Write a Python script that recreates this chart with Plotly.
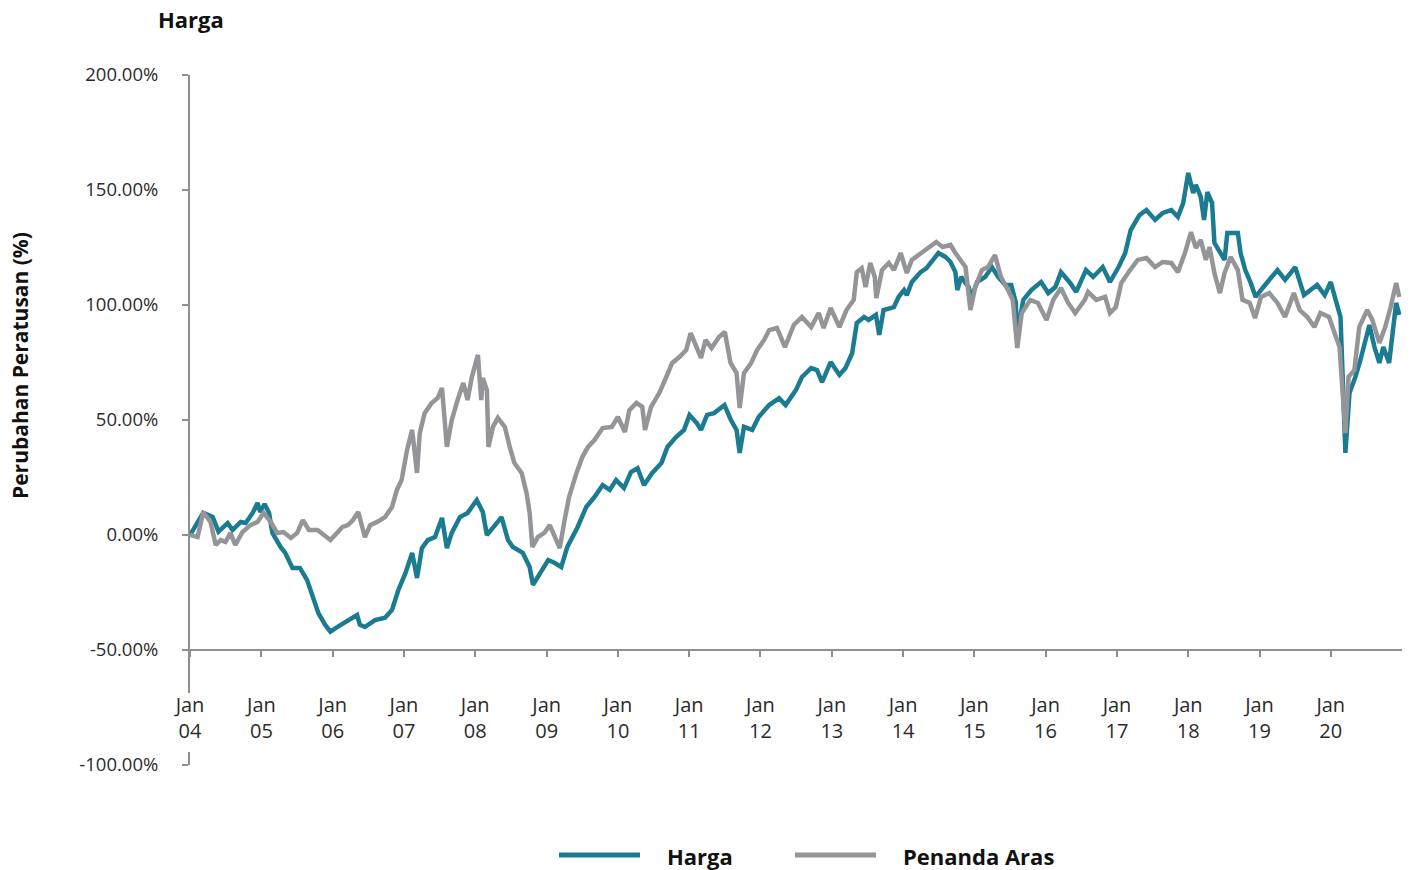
import plotly.graph_objects as go

# ---------------- data ----------------
harga_dates = [
    "2004-01-01", "2004-03-09", "2004-04-26", "2004-05-26", "2004-07-12", "2004-08-06", "2004-09-17",
    "2004-10-12", "2004-11-17", "2004-12-12", "2004-12-26", "2005-01-17", "2005-02-09", "2005-02-26",
    "2005-04-09", "2005-05-03", "2005-06-09", "2005-07-17", "2005-08-23", "2005-09-23", "2005-10-20",
    "2005-11-23", "2005-12-20", "2006-02-01", "2006-03-20", "2006-05-06", "2006-05-20", "2006-06-15",
    "2006-08-06", "2006-09-26", "2006-11-01", "2006-12-03", "2007-01-09", "2007-02-12", "2007-03-09",
    "2007-04-03", "2007-05-03", "2007-06-09", "2007-07-15", "2007-08-09", "2007-09-03", "2007-10-15",
    "2007-11-23", "2008-01-09", "2008-02-09", "2008-03-01", "2008-04-12", "2008-05-15", "2008-06-17",
    "2008-07-12", "2008-09-01", "2008-10-06", "2008-10-23", "2008-12-01", "2009-01-09", "2009-02-12",
    "2009-03-17", "2009-04-17", "2009-06-09", "2009-07-23", "2009-09-03", "2009-10-15", "2009-11-20",
    "2009-12-23", "2010-02-01", "2010-03-09", "2010-04-12", "2010-05-15", "2010-06-26", "2010-08-12",
    "2010-09-12", "2010-10-26", "2010-12-06", "2011-01-03", "2011-02-09", "2011-03-03", "2011-04-03",
    "2011-05-09", "2011-07-01", "2011-08-03", "2011-09-01", "2011-09-17", "2011-10-09", "2011-11-20",
    "2011-12-23", "2012-02-15", "2012-04-06", "2012-05-09", "2012-07-01", "2012-08-01", "2012-09-17",
    "2012-10-17", "2012-11-12", "2012-12-26", "2013-02-09", "2013-03-12", "2013-04-15", "2013-05-09",
    "2013-06-15", "2013-07-09", "2013-08-15", "2013-09-01", "2013-09-23", "2013-11-15", "2013-12-09",
    "2014-01-06", "2014-01-20", "2014-02-15", "2014-04-01", "2014-05-01", "2014-05-26", "2014-07-01",
    "2014-08-06", "2014-09-01", "2014-09-26", "2014-10-06", "2014-10-26", "2014-12-03", "2014-12-17",
    "2015-01-15", "2015-02-26", "2015-04-01", "2015-05-03", "2015-06-09", "2015-07-09", "2015-08-01",
    "2015-08-09", "2015-09-09", "2015-10-20", "2015-12-09", "2016-01-15", "2016-02-20", "2016-03-20",
    "2016-05-06", "2016-06-06", "2016-07-26", "2016-09-01", "2016-10-20", "2016-11-26", "2017-01-09",
    "2017-02-12", "2017-03-12", "2017-04-26", "2017-06-01", "2017-07-15", "2017-08-23", "2017-10-06",
    "2017-11-09", "2017-12-06", "2018-01-01", "2018-01-26", "2018-02-09", "2018-03-06", "2018-03-23",
    "2018-04-09", "2018-05-03", "2018-05-15", "2018-06-12", "2018-07-06", "2018-07-20", "2018-09-12",
    "2018-09-26", "2018-10-20", "2018-11-17", "2018-12-12", "2019-01-17", "2019-02-20", "2019-04-03",
    "2019-05-12", "2019-07-03", "2019-08-17", "2019-09-20", "2019-10-23", "2019-12-01", "2020-01-01",
    "2020-01-26", "2020-02-20", "2020-03-16", "2020-04-06", "2020-05-06", "2020-06-01", "2020-07-17",
    "2020-08-12", "2020-09-06", "2020-09-26", "2020-10-26", "2020-11-12", "2020-12-01", "2020-12-17",
]
harga_values = [
    0, 9.6, 7.8, 1.5, 5.2, 2.2, 5.7,
    5.2, 9.6, 13.9, 10, 13.5, 9.6, 0.9,
    -5.2, -7.8, -14.3, -14.3, -19.6, -27, -34,
    -39, -42, -39.6, -37, -34.8, -39, -40,
    -37, -36, -32.6, -24, -16.5, -7.8, -18.7,
    -5.7, -2.2, -0.9, 7.4, -5.7, 0.9, 7.8,
    9.6, 15.2, 10, 0, 4.3, 7.8, -2.2,
    -5.2, -7.8, -13.9, -21.7, -16.5, -10.9, -12.2,
    -13.9, -5.2, 3.5, 12.2, 16.5, 21.7, 19.6,
    23.9, 20.4, 27.4, 29, 21.7, 27, 31.3,
    38.3, 42.6, 45.7, 52.2, 48.7, 45.7, 52.2,
    53, 56.5, 50, 45.7, 35.7, 47, 45.7,
    51.3, 56.5, 59.5, 56.5, 63, 68.7, 72.6,
    71.7, 66.5, 75.2, 69.6, 72.6, 79, 92.2,
    94.8, 93.5, 95.7, 87, 97.8, 99.1, 103.5,
    106.5, 104.3, 110, 114.3, 116, 118.7, 122.6,
    120.9, 118.7, 114.3, 106.5, 112.2, 107.8, 103,
    110, 112.2, 116.5, 112.2, 108.7, 108.7, 101.3,
    87.8, 102.2, 106.5, 110, 105.2, 107.8, 114.3,
    109.6, 105.7, 115.2, 112.2, 116.5, 110, 116.5,
    122.6, 132.6, 139.1, 141.3, 137, 140, 141.3,
    138.3, 144.3, 157.4, 148.7, 152.2, 147, 137,
    149.1, 144.3, 127, 122.6, 119.6, 131.3, 131.3,
    122.6, 115.2, 109.6, 103.5, 107.4, 110.9, 115.2,
    110.9, 116.5, 104.3, 106.5, 108.7, 104.3, 110,
    102.2, 94.8, 35.7, 61.7, 68.7, 76.1, 91.3,
    81.7, 74.8, 81.7, 74.8, 87.8, 100.9, 95.7,
]

penanda_dates = [
    "2004-01-01", "2004-02-09", "2004-03-09", "2004-04-15", "2004-05-12", "2004-06-06", "2004-07-01",
    "2004-07-26", "2004-08-20", "2004-09-26", "2004-11-06", "2004-12-12", "2005-01-12", "2005-02-17",
    "2005-03-23", "2005-04-23", "2005-06-01", "2005-07-03", "2005-08-01", "2005-09-01", "2005-10-15",
    "2005-11-15", "2005-12-20", "2006-01-23", "2006-02-20", "2006-03-20", "2006-04-15", "2006-05-12",
    "2006-06-01", "2006-06-15", "2006-07-12", "2006-08-17", "2006-09-26", "2006-11-01", "2006-11-26",
    "2006-12-20", "2007-01-17", "2007-02-12", "2007-03-09", "2007-03-23", "2007-04-17", "2007-05-23",
    "2007-06-23", "2007-07-15", "2007-08-09", "2007-09-03", "2007-10-03", "2007-11-01", "2007-11-23",
    "2007-12-15", "2008-01-15", "2008-02-01", "2008-02-09", "2008-03-01", "2008-03-09", "2008-04-01",
    "2008-04-26", "2008-06-01", "2008-06-26", "2008-07-20", "2008-08-26", "2008-09-20", "2008-10-06",
    "2008-10-20", "2008-11-17", "2008-12-20", "2009-01-17", "2009-02-12", "2009-03-09", "2009-04-03",
    "2009-04-26", "2009-06-03", "2009-07-03", "2009-08-01", "2009-09-03", "2009-10-15", "2009-12-01",
    "2010-01-01", "2010-02-06", "2010-03-01", "2010-04-06", "2010-05-06", "2010-05-20", "2010-06-20",
    "2010-08-01", "2010-09-06", "2010-10-06", "2010-11-12", "2010-12-17", "2011-01-09", "2011-02-09",
    "2011-03-03", "2011-03-26", "2011-04-26", "2011-06-03", "2011-07-03", "2011-08-01", "2011-09-01",
    "2011-09-17", "2011-10-09", "2011-11-15", "2011-12-15", "2012-01-20", "2012-02-15", "2012-03-26",
    "2012-05-06", "2012-06-20", "2012-08-01", "2012-09-17", "2012-10-26", "2012-11-20", "2012-12-26",
    "2013-02-09", "2013-03-17", "2013-04-23", "2013-05-09", "2013-06-03", "2013-06-23", "2013-07-17",
    "2013-08-09", "2013-08-17", "2013-09-15", "2013-10-20", "2013-11-15", "2013-12-20", "2014-01-20",
    "2014-02-15", "2014-04-01", "2014-05-12", "2014-06-20", "2014-07-23", "2014-09-01", "2014-09-26",
    "2014-10-20", "2014-11-17", "2014-12-12", "2015-01-06", "2015-02-09", "2015-03-12", "2015-04-17",
    "2015-05-17", "2015-06-23", "2015-07-17", "2015-08-09", "2015-09-01", "2015-10-15", "2015-11-23",
    "2016-01-06", "2016-02-09", "2016-03-20", "2016-04-26", "2016-06-01", "2016-07-20", "2016-08-06",
    "2016-09-17", "2016-11-01", "2016-11-26", "2016-12-26", "2017-01-23", "2017-03-09", "2017-04-17",
    "2017-06-01", "2017-07-15", "2017-08-23", "2017-10-06", "2017-11-09", "2017-12-15", "2018-01-15",
    "2018-02-09", "2018-03-06", "2018-04-01", "2018-04-20", "2018-05-15", "2018-06-12", "2018-07-06",
    "2018-08-06", "2018-09-12", "2018-10-06", "2018-11-12", "2018-12-09", "2019-01-09", "2019-02-20",
    "2019-04-03", "2019-05-12", "2019-06-26", "2019-07-26", "2019-09-03", "2019-10-09", "2019-11-09",
    "2019-12-23", "2020-01-20", "2020-02-15", "2020-03-16", "2020-04-01", "2020-05-01", "2020-05-26",
    "2020-07-06", "2020-08-01", "2020-09-06", "2020-10-06", "2020-11-03", "2020-12-01", "2020-12-17",
]
penanda_values = [
    0, -0.9, 10, 5.7, -4.3, -2.2, -3,
    0.9, -4.3, 1.3, 4.3, 5.7, 9.6, 5.7,
    0.9, 1.3, -1.3, 0.9, 6.5, 2.2, 2.2,
    0, -2.2, 0.9, 3.5, 4.3, 6.5, 10,
    3.5, -0.9, 4.3, 5.7, 7.8, 12.2, 19.6,
    23.9, 37, 45.7, 27, 44.3, 53, 57.4,
    59.6, 63.9, 38.3, 50, 58.7, 66.1, 58.7,
    68.7, 78.3, 58.7, 68.3, 63, 38.3, 47,
    50.9, 47, 38.3, 31.3, 27, 18.3, 9.6,
    -5.2, -0.9, 0.9, 4.3, -0.9, -5.7, 6.5,
    16.5, 27, 33.9, 38.3, 41.3, 46.5, 47,
    51.3, 44.8, 54.3, 57.4, 55.7, 45.7, 55.7,
    61.7, 68.7, 74.8, 77.4, 80.4, 87.8, 81.7,
    77, 84.8, 81.3, 86.1, 88.3, 74.8, 70.4,
    55.2, 70.4, 74.8, 80.4, 84.8, 89.1, 90,
    81.7, 91.3, 94.8, 90.4, 96.5, 90, 98.7,
    90.4, 97.8, 102.2, 114.3, 116, 107.8, 118.3,
    112.2, 103, 115.2, 118.3, 115.2, 122.6, 113.9,
    119.6, 122.6, 125.2, 127.4, 125.2, 126.1, 122.6,
    119.6, 116.5, 97.8, 107.8, 115.2, 116.5, 121.7,
    112.2, 106.5, 102.2, 81.3, 96.5, 102.2, 100.9,
    93.5, 102.2, 107.4, 100.9, 96.5, 102.2, 105.7,
    102.2, 103.5, 96.5, 99.1, 109.6, 115.2, 119.6,
    120.4, 116.5, 118.7, 118.3, 114.3, 122.6, 131.7,
    124.8, 128.3, 119.6, 125.2, 113.9, 105.2, 113.9,
    120.9, 115.2, 102.2, 100.9, 94.3, 103.5, 105.2,
    100.9, 94.8, 105.2, 97.8, 94.8, 90.4, 96.5,
    94.8, 87.8, 81.7, 44.3, 68.7, 71.7, 90.4,
    97.8, 93.5, 83.5, 90.4, 99.1, 109.6, 103.5,
]

series_names = ["Harga", "Penanda Aras"]
y_tickvals = [-50, 0, 50, 100, 150, 200]
y_ticktext = ["-50.00%", "0.00%", "50.00%", "100.00%", "150.00%", "200.00%"]
y_low_tickvals = [-100]
y_low_ticktext = ["-100.00%"]

chart_title = "Harga"
y_title = "Perubahan Peratusan (%)"

# ---------------- styling ----------------
TEAL = "#1a7b91"
GREY = "#939598"
AXIS = "#8f8f8f"
FONT = "'Open Sans', Lato, sans-serif"
TXT = "#2b2b2b"

W, H = 1412, 870
L, R, T, B = 190, 10, 75, 105
plot_w = W - L - R
plot_h = H - T - B

def px_x(px):
    return (px - L) / plot_w

def px_y(py):
    return (H - B - py) / plot_h

# value scale: 300 percentage points over the full plot height
Y_MIN, Y_MAX = -100, 200
per_px = (Y_MAX - Y_MIN) / plot_h
main_bottom_px = 693   # where the upper axis segment ends (gap for the first date label)
low_top_px = 752       # where the short lower axis segment starts
main_dom0 = px_y(main_bottom_px)
low_dom1 = px_y(low_top_px)
main_range = [Y_MAX - (main_bottom_px - T) * per_px, Y_MAX]
low_range = [Y_MIN, Y_MIN + (H - B - low_top_px) * per_px]

fig = go.Figure()
fig.add_trace(go.Scatter(x=harga_dates, y=harga_values, mode="lines", name=series_names[0],
                         line=dict(color=TEAL, width=4.5), showlegend=False))
fig.add_trace(go.Scatter(x=penanda_dates, y=penanda_values, mode="lines", name=series_names[1],
                         line=dict(color=GREY, width=4.5), showlegend=False))
fig.add_trace(go.Scatter(x=[harga_dates[0]], y=[None], yaxis="y2", mode="lines",
                         showlegend=False, hoverinfo="skip"))

fig.update_layout(
    width=W, height=H,
    margin=dict(l=L, r=R, t=T, b=B, pad=0),
    paper_bgcolor="white", plot_bgcolor="white",
    font=dict(family=FONT, color=TXT),
    showlegend=False,
    xaxis=dict(
        type="date",
        range=["2004-01-01", "2020-12-31"],
        anchor="free", position=px_y(650),
        tick0="2004-01-01", dtick="M12", tickformat="%b<br>%y",
        showgrid=False, zeroline=False,
        showline=True, linecolor=AXIS, linewidth=2,
        ticks="outside", ticklen=6, tickwidth=2, tickcolor=AXIS,
        tickfont=dict(size=20, color=TXT, family=FONT),
        ticklabelstandoff=31,
    ),
    yaxis=dict(
        domain=[main_dom0, 1],
        range=main_range,
        tickvals=y_tickvals, ticktext=y_ticktext,
        showgrid=False, zeroline=False,
        showline=True, linecolor=AXIS, linewidth=2,
        ticks="outside", ticklen=6, tickwidth=2, tickcolor=AXIS,
        tickfont=dict(size=18.5, color=TXT, family=FONT),
        ticklabelstandoff=20,
    ),
    yaxis2=dict(
        domain=[0, low_dom1],
        range=low_range,
        anchor="x",
        tickvals=y_low_tickvals, ticktext=y_low_ticktext,
        showgrid=False, zeroline=False,
        showline=True, linecolor=AXIS, linewidth=2,
        ticks="outside", ticklen=6, tickwidth=2, tickcolor=AXIS,
        tickfont=dict(size=18.5, color=TXT, family=FONT),
        ticklabelstandoff=20,
    ),
)

annotations = [
    dict(text="<b>" + chart_title + "</b>", xref="paper", yref="paper",
         x=px_x(156), y=px_y(19), xanchor="left", yanchor="middle", showarrow=False,
         font=dict(size=22, color="#111111", family=FONT)),
    dict(text="<b>" + y_title + "</b>", xref="paper", yref="paper",
         x=px_x(20), y=px_y(366), xanchor="center", yanchor="middle", showarrow=False,
         textangle=-90, font=dict(size=21, color="#111111", family=FONT)),
    dict(text="<b>" + series_names[0] + "</b>", xref="paper", yref="paper",
         x=px_x(665), y=px_y(856), xanchor="left", yanchor="middle", showarrow=False,
         font=dict(size=22, color="#111111", family=FONT)),
    dict(text="<b>" + series_names[1] + "</b>", xref="paper", yref="paper",
         x=px_x(901), y=px_y(856), xanchor="left", yanchor="middle", showarrow=False,
         font=dict(size=22, color="#111111", family=FONT)),
]
fig.update_layout(annotations=annotations)

shapes = [
    dict(type="line", xref="paper", yref="paper", x0=px_x(559), x1=px_x(640),
         y0=px_y(855), y1=px_y(855), line=dict(color=TEAL, width=5)),
    dict(type="line", xref="paper", yref="paper", x0=px_x(795), x1=px_x(876),
         y0=px_y(855), y1=px_y(855), line=dict(color=GREY, width=5)),
]
fig.update_layout(shapes=shapes)

fig.write_html("out.html", config={"displayModeBar": False},
               post_script="document.body.style.margin='0';")
